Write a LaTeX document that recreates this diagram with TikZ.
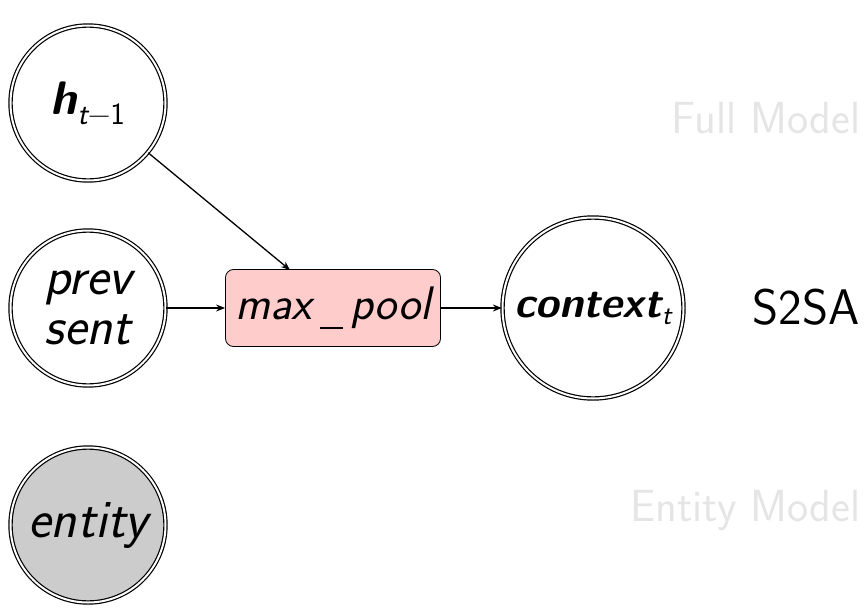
\documentclass[tikz,border=0pt]{standalone}
\usetikzlibrary{arrows.meta}
\newcommand{\fs}[1]{\fontsize{#1}{#1}\selectfont}
\begin{document}
\begin{tikzpicture}[x=1pt,y=-1pt,
  every node/.style={font=\sffamily},
  state/.style={circle,draw,line width=1.2pt,double=white,double distance=2pt,inner sep=0pt,minimum size=155pt},
  bigstate/.style={state,minimum size=181pt},
  opbox/.style={rectangle,rounded corners=8pt,draw,line width=0.8pt,fill=red!20,minimum width=215pt,minimum height=77pt,inner sep=0pt},
  link/.style={line width=1.3pt,-{Stealth[length=9pt,width=7pt]}},
  ghost/.style={text=black!10,font=\sffamily\fs{45}}
]
\useasboundingbox (0,0) rectangle (867,610);

\node[state] (h) at (88,103) {{\fs{47}\bfseries\itshape h}\raisebox{-10pt}{\fs{31}\itshape t\upshape −1}};
\node[state,align=center,font=\sffamily\itshape\fs{54}] (prev) at (88,308) {prev\\[-4pt]sent};
\node[state,fill=black!20,font=\sffamily\itshape\fs{54}] (ent) at (88,525) {entity};
\node[opbox,font=\sffamily\itshape\fs{47}] (pool) at (333,308) {max\hspace{8pt}\rule[-9pt]{23pt}{1.6pt}\hspace{8pt}pool};
\node[bigstate] (ctx) at (593,308) {{\fs{43}\bfseries\itshape context}\raisebox{-7pt}{\fs{28}\itshape t}};

\node[anchor=east,font=\sffamily\fs{50}] (s2sa) at (863,307) {S2SA};
\node[anchor=east,ghost] (full) at (864,118) {Full Model};
\node[anchor=east,ghost] (entm) at (864,510) {Entity Model};

\coordinate (pooltop) at (290,270);
\draw[link] (h) -- (pooltop);
\draw[link] (prev) -- (pool);
\draw[link] (pool) -- (ctx);
\end{tikzpicture}
\end{document}
